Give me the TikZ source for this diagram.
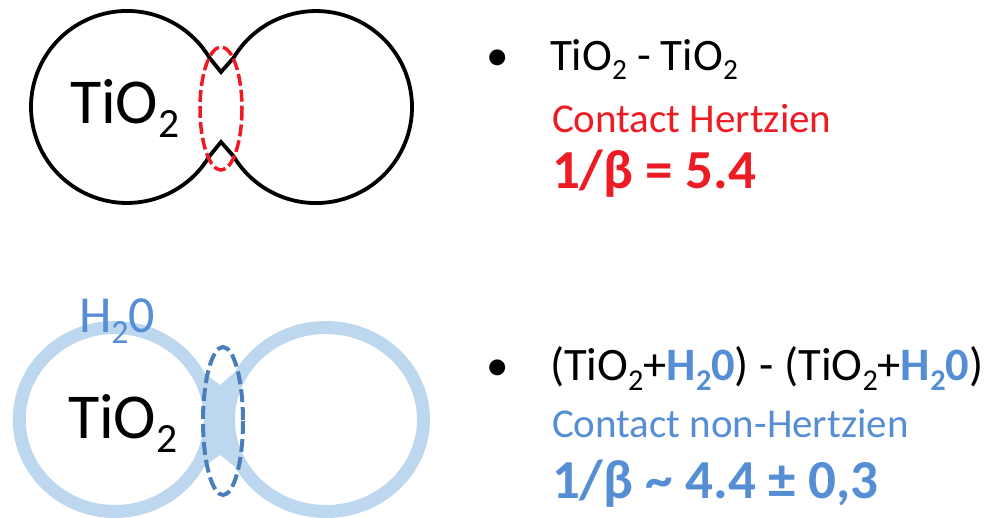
\documentclass[tikz,border=0pt]{standalone}
\usepackage{fontspec}
\setmainfont{Carlito}
\definecolor{rd}{RGB}{237,28,36}
\definecolor{bltxt}{RGB}{85,142,213}
\definecolor{blring}{RGB}{189,215,238}
\definecolor{bldash}{RGB}{74,126,187}
\newcommand\subs[1]{\raisebox{-0.22em}{\scalebox{0.65}{#1}}}
\begin{document}
\begin{tikzpicture}[x=1pt,y=-1pt,
  blk/.style={line width=3.8pt, line join=miter},
  reddash/.style={draw=rd, line width=3.5pt, dash pattern=on 12pt off 4pt},
  bluedash/.style={draw=bldash, line width=4pt, dash pattern=on 13pt off 5pt},
  ring/.style={draw=blring, line width=13pt},
  txt/.style={anchor=base west, inner sep=0pt, outer sep=0pt}]
\useasboundingbox (0,0) rectangle (984,517);
% top particles
\draw[blk] (209.3,57.6) -- (221,72) -- (233.7,57.6)
  arc[start angle=211, end angle=509, radius=96]
  -- (221,142) -- (209.3,156.4)
  arc[start angle=31, end angle=329, radius=96] -- cycle;
\draw[reddash] (221,108.5) ellipse[x radius=21, y radius=61.5];
\node[txt] (tio1) at (70,123) {\fontsize{64}{76}\selectfont TiO\subs{2}};
% bottom particles
\fill[blring] (204,373) -- (220,385) -- (234,373) -- (234,466) -- (220,455) -- (204,466) -- cycle;
\draw[ring] (114.75,419.5) ellipse[x radius=95.5, y radius=92];
\draw[ring] (326,419.5) ellipse[x radius=97.5, y radius=92];
\draw[bluedash] (223,421) ellipse[x radius=20, y radius=74];
\node[txt] (tio2) at (68,438) {\fontsize{64}{76}\selectfont TiO\subs{2}};
\node[txt, text=bltxt] (h2o) at (79,332) {\fontsize{52}{62}\selectfont H\subs{2}0};
% right texts
\node[txt] (b1) at (486,70) {\fontsize{45}{54}\selectfont\textbullet};
\node[txt] (t1) at (550,70) {\fontsize{45}{54}\selectfont TiO\subs{2} - TiO\subs{2}};
\node[txt, text=rd] (t2) at (552,132) {\fontsize{41}{50}\selectfont Contact Hertzien};
\node[txt, text=rd] (t3) at (552,188) {\fontsize{55}{66}\selectfont\bfseries 1/β = 5.4};
\node[txt] (b2) at (486,380) {\fontsize{45}{54}\selectfont\textbullet};
\node[txt] (t4) at (550,380) {\fontsize{46.5}{56}\selectfont (TiO\subs{2}+{\bfseries\color{bltxt}H\subs{2}0}) - (TiO\subs{2}+{\bfseries\color{bltxt}H\subs{2}0})};
\node[txt, text=bltxt] (t5) at (552,437) {\fontsize{41}{50}\selectfont Contact non-Hertzien};
\node[txt, text=bltxt] (t6) at (552,498) {\fontsize{55}{66}\selectfont\bfseries 1/β \textasciitilde{} 4.4 ± 0,3};
\end{tikzpicture}
\end{document}
